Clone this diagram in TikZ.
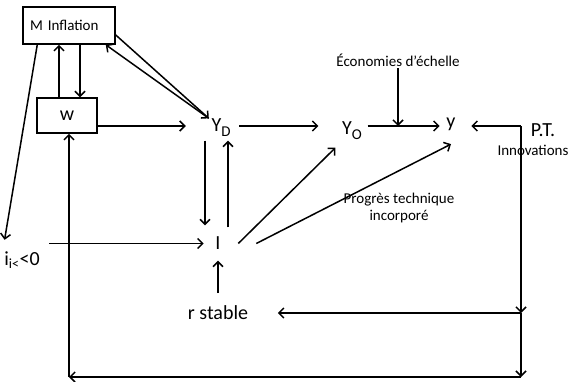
\documentclass[tikz,border=0pt]{standalone}
\usepackage{fontspec}
\setmainfont{Carlito}
\usetikzlibrary{positioning,arrows.meta}
\newcommand{\lowsub}[1]{\raisebox{-5pt}{\fontsize{15}{15}\selectfont #1}}

\begin{document}
\begin{tikzpicture}[x=1pt,y=-1pt,line width=1.5pt,
  fl/.style={-{Straight Barb[length=5pt,width=10pt]}},
  bx/.style={draw,rectangle,inner sep=0pt,font=\fontsize{15}{17}\selectfont},
  big/.style={inner sep=1pt,font=\fontsize{20}{22}\selectfont},
  small/.style={inner sep=1pt,font=\fontsize{15}{17}\selectfont,align=center}]
\useasboundingbox (0,0) rectangle (569,381);
\node[bx,minimum width=92pt,minimum height=37pt,text width=78pt,align=left] (minf) at (69,25.5) {M Inflation};
\node[bx,minimum width=60pt,minimum height=35pt,font=\fontsize{20}{22}\selectfont] (wbox) at (67,115.5) {w};
\node[big] (yd) at (221,128) {Y\lowsub{D}};
\node[big] (yo) at (352,131) {Y\lowsub{O}};
\node[big] (ysm) at (451,124) {y};
\node[big] (pt) at (543,130) {P.T.};
\node[small] (innov) at (533,150) {Innovations};
\node[small] (eco) at (398,60) {Économies d’échelle};
\node[small] (ptech) at (399,208) {Progrès technique\\incorporé};
\node[big] (inv) at (218,243.5) {I};
\node[big] (rst) at (218,313) {r stable};
\node[big] (ineg) at (22,260) {i\textsubscript{i<}<0};
\coordinate (row) at (300,126);
\coordinate (c1) at (521,126);
\coordinate (c2) at (521,313);
\coordinate (c3) at (521,377);
\coordinate (c4) at (69,377);
\draw[fl] ([xshift=-8pt]wbox.north) -- ([xshift=-8pt]wbox.north |- minf.south);
\draw[fl] ([xshift=13pt]wbox.north |- minf.south) -- ([xshift=13pt]wbox.north);
\draw[fl] ([yshift=-9.5pt]minf.east) -- ([xshift=-1pt,yshift=-1pt]yd.north west);
\draw[fl] ([xshift=-1pt,yshift=-1pt]yd.north west) -- ([xshift=-10pt]minf.south east);
\draw[fl] (wbox.east |- row) -- ([xshift=-24pt]yd.west |- row);
\draw[fl] ([xshift=7pt]yd.east |- row) -- ([xshift=-22pt]yo.west |- row);
\draw[fl] ([xshift=4pt]yo.east |- row) -- ([xshift=-5pt]ysm.west |- row);
\draw[fl] (eco.south) -- (eco.south |- row);
\draw[fl] (c1) -- ([xshift=14pt]ysm.east |- row);
\draw[fl] ([xshift=-16pt,yshift=-2pt]yd.south) -- ([xshift=-16pt,yshift=10pt]yd.south |- inv.north);
\draw[fl] ([xshift=10pt,yshift=8pt]inv.north) -- ([xshift=10pt,yshift=-2pt]inv.north |- yd.south);
\draw[fl] ([yshift=11pt]rst.north) -- ([yshift=-9pt]inv.south);
\draw[fl] ([xshift=15pt]minf.south west) -- ([xshift=2pt,yshift=10pt]ineg.north west);
\draw[fl] ([xshift=8pt]ineg.north east |- inv.west) -- ([xshift=-10pt]inv.west);
\draw[fl] ([xshift=16pt]inv.east) -- ([xshift=-5pt,yshift=-6pt]yo.south west);
\draw[fl] ([xshift=34pt]inv.east) -- ([yshift=-12pt]ysm.south);
\draw[fl] (c1) -- (c2);
\draw[fl] (c2) -- (c3);
\draw[fl] (c2) -- ([xshift=28pt]rst.east);
\draw[fl] (c3) -- (c4);
\draw[fl] (c4) -- (c4 |- wbox.south);
\end{tikzpicture}
\end{document}
